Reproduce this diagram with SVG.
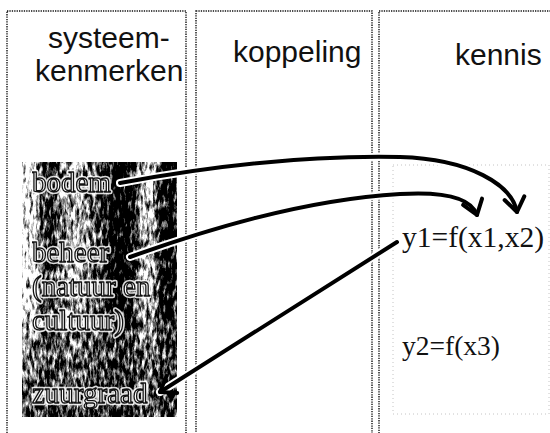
<svg xmlns="http://www.w3.org/2000/svg" width="550" height="433" viewBox="0 0 550 433">
  <style>
    .col { fill: none; stroke: #111; stroke-width: 1.4; stroke-dasharray: 1.3 1.1; }
    .inner { fill: none; stroke: #c4c4c4; stroke-width: 1; stroke-dasharray: 1 3; }
    .head { font-family: "Liberation Sans", Arial, sans-serif; font-size: 30px; fill: #111; }
    .halo { font-family: "Liberation Serif", "Times New Roman", serif; font-size: 29px; fill: none; stroke: #fff; stroke-width: 4.5; stroke-linejoin: round; opacity: 0.85; }
    .lbl { font-family: "Liberation Serif", "Times New Roman", serif; font-size: 29px; fill: #fff; stroke: #111; stroke-width: 1.3; stroke-linejoin: round; }
    .fx { font-family: "Liberation Serif", "Times New Roman", serif; fill: #111; }
    .casing { fill: none; stroke: #fff; stroke-width: 8; stroke-linecap: round; }
    .wire { fill: none; stroke: #000; stroke-width: 4; stroke-linecap: round; marker-end: url(#vee); }
  </style>
  <defs>
    <marker id="vee" markerUnits="userSpaceOnUse" viewBox="-18 -14 22 28" markerWidth="22" markerHeight="28" refX="0" refY="0" orient="auto">
      <path d="M-14,-10 L0,0 L-14,10" fill="none" stroke="#000" stroke-width="4" stroke-linecap="round" stroke-linejoin="round"/>
    </marker>
    <linearGradient id="trunks" x1="22" y1="0" x2="177" y2="0" gradientUnits="userSpaceOnUse">
      <stop offset="0" stop-color="#b8b8b8"/>
      <stop offset="0.08" stop-color="#a4a4a4"/>
      <stop offset="0.14" stop-color="#626262"/>
      <stop offset="0.2" stop-color="#565656"/>
      <stop offset="0.27" stop-color="#868686"/>
      <stop offset="0.36" stop-color="#969696"/>
      <stop offset="0.46" stop-color="#747474"/>
      <stop offset="0.55" stop-color="#4a4a4a"/>
      <stop offset="0.62" stop-color="#2c2c2c"/>
      <stop offset="0.7" stop-color="#3a3a3a"/>
      <stop offset="0.77" stop-color="#909090"/>
      <stop offset="0.84" stop-color="#9c9c9c"/>
      <stop offset="0.9" stop-color="#444"/>
      <stop offset="0.96" stop-color="#363636"/>
      <stop offset="1" stop-color="#606060"/>
    </linearGradient>
    <linearGradient id="ground" x1="0" y1="300" x2="0" y2="417" gradientUnits="userSpaceOnUse">
      <stop offset="0" stop-color="#707070" stop-opacity="0"/>
      <stop offset="0.4" stop-color="#707070" stop-opacity="0.7"/>
      <stop offset="1" stop-color="#5c5c5c" stop-opacity="0.9"/>
    </linearGradient>
    <!-- grainy, mottled dither of the trunk pattern -->
    <filter id="grain" filterUnits="userSpaceOnUse" x="22" y="162" width="155" height="255" color-interpolation-filters="sRGB">
      <feTurbulence type="fractalNoise" baseFrequency="0.3 0.1" numOctaves="4" seed="5" result="n"/>
      <feColorMatrix in="n" type="matrix" values="1 0 0 0 0  1 0 0 0 0  1 0 0 0 0  0 0 0 0 1" result="g"/>
      <feComposite in="SourceGraphic" in2="g" operator="arithmetic" k1="0" k2="2.6" k3="2.8" k4="-2.2" result="d"/>
      <feComposite in="d" in2="SourceAlpha" operator="in"/>
    </filter>
    <!-- renders the outlined labels offscreen (grey antialiasing) -->
    <filter id="flat" x="0" y="0" width="1" height="1">
      <feOffset dx="0" dy="0"/>
    </filter>
  </defs>

  <!-- columns -->
  <g id="columns">
    <rect class="col" x="7" y="11" width="179" height="440"/>
    <rect class="col" x="196" y="11" width="176" height="440"/>
    <rect class="col" x="379" y="11" width="190" height="440"/>
    <rect class="inner" x="393" y="165" width="156" height="249"/>
  </g>

  <g id="headers">
    <text class="head" x="48" y="48">systeem-</text>
    <text class="head" x="35" y="81">kenmerken</text>
    <text class="head" x="233" y="62">koppeling</text>
    <text class="head" x="455" y="65">kennis</text>
  </g>

  <!-- forest picture with the system characteristics -->
  <g id="systeemkenmerken">
    <g filter="url(#grain)">
      <rect x="22" y="162" width="155" height="255" fill="url(#trunks)"/>
      <rect x="22" y="300" width="155" height="117" fill="url(#ground)"/>
    </g>
    <g filter="url(#flat)">
      <g id="bodem">
        <text class="halo" x="32" y="192">bodem</text>
        <text class="lbl" x="32" y="192">bodem</text>
      </g>
      <g id="beheer">
        <text class="halo" x="32" y="262">beheer</text>
        <text class="lbl" x="32" y="262">beheer</text>
        <text class="halo" x="32" y="296">(natuur en</text>
        <text class="lbl" x="32" y="296">(natuur en</text>
        <text class="halo" x="32" y="330">cultuur)</text>
        <text class="lbl" x="32" y="330">cultuur)</text>
      </g>
      <g id="zuurgraad">
        <text class="halo" x="32" y="403">zuurgraad</text>
        <text class="lbl" x="32" y="403">zuurgraad</text>
      </g>
    </g>
  </g>

  <g id="kennis">
    <g id="y1"><text class="fx" x="402" y="247" font-size="29.5">y1=f(x1,x2)</text></g>
    <g id="y2"><text class="fx" x="402" y="355" font-size="27.5">y2=f(x3)</text></g>
  </g>

  <!-- connectors -->
  <g id="connectors">
    <path class="casing" d="M120,183 C200,168 300,155 400,157 C470,159 512,185 517,212"/>
    <path class="casing" d="M130,257 C200,232 300,200 400,194 C450,191 472,200 477,215"/>
    <path class="casing" d="M397,242 L160,392"/>
    <path class="wire" d="M120,183 C200,168 300,155 400,157 C470,159 512,185 517,212"/>
    <path class="wire" d="M130,257 C200,232 300,200 400,194 C450,191 472,200 477,215"/>
    <path class="wire" d="M397,242 L160,392"/>
  </g>
</svg>
